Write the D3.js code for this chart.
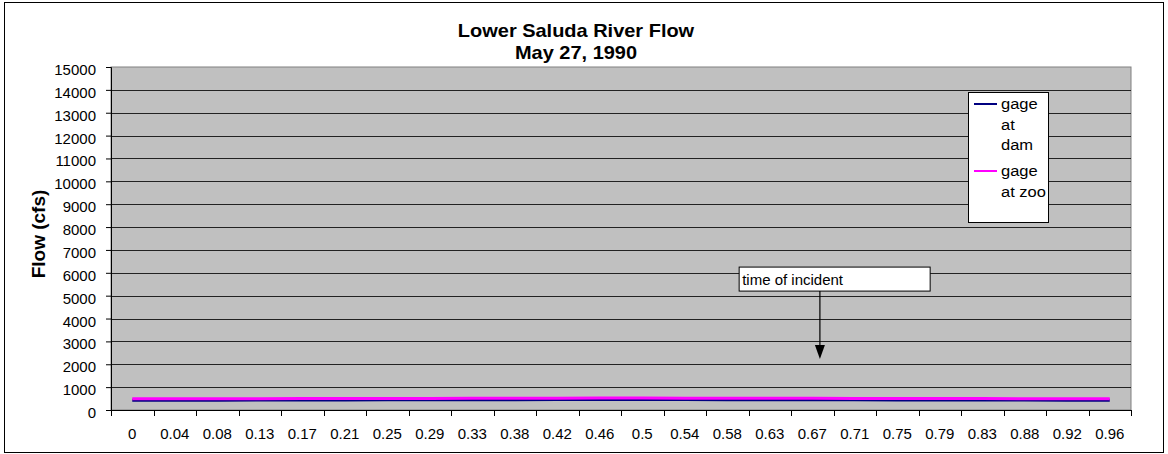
<!DOCTYPE html>
<html>
<head>
<meta charset="utf-8">
<script src="https://cdn.jsdelivr.net/npm/d3@7"></script>
<style>
  body { margin: 0; background: #fff; }
  text { font-family: Arial, "Liberation Sans", sans-serif; }
</style>
</head>
<body>
<div id="grafico"></div>
<script>
// datos
var horas = ["0","0.04","0.08","0.13","0.17","0.21","0.25","0.29","0.33","0.38","0.42","0.46",
             "0.5","0.54","0.58","0.63","0.67","0.71","0.75","0.79","0.83","0.88","0.92","0.96"];
var gageDam = [430,430,430,435,440,440,445,445,450,450,455,455,455,455,450,450,445,445,440,440,435,435,430,430];
var gageZoo = [490,490,495,495,500,500,505,505,510,515,515,520,520,515,515,510,510,505,505,500,500,495,495,495];
var series = ["gage at dam", "gage at zoo"];
var colores = ["#000080", "#ff00ff"];
var ticksY = d3.range(0, 15001, 1000);
var nota = "time of incident";

var width = 1168, height = 454;
var m = {top: 67, right: 37, bottom: 44, left: 111};
var w = width - m.left - m.right;
var h = height - m.top - m.bottom;
var estirar = 1.1; // el original esta algo estirado a lo ancho

var svg = d3.select("#grafico").append("svg")
  .attr("width", width).attr("height", height);

// marco exterior
svg.append("rect")
  .attr("x", 4.5).attr("y", 2.5).attr("width", 1159).attr("height", 450)
  .attr("fill", "#fff").attr("stroke", "#000").attr("stroke-width", 1);

var x = d3.scaleBand().domain(horas).range([0, w]);
var y = d3.scaleLinear().domain([0, 15000]).range([h, 0]);

var g = svg.append("g").attr("transform", "translate(" + m.left + "," + m.top + ")");

g.append("rect").attr("width", w).attr("height", h)
  .attr("fill", "#c0c0c0").attr("stroke", "#808080");

// lineas de grilla
g.selectAll(".grid").data(ticksY.slice(1, -1)).enter().append("line")
  .attr("x1", 0).attr("x2", w)
  .attr("y1", function(d){ return Math.round(y(d)) + 0.5; })
  .attr("y2", function(d){ return Math.round(y(d)) + 0.5; })
  .attr("stroke", "#222");

// eje y
var ejeY = g.append("g")
  .call(d3.axisLeft(y).tickValues(ticksY).tickSize(5).tickPadding(10).tickFormat(d3.format("d")));
ejeY.selectAll("text").attr("font-size", 15).attr("fill", "#000").attr("dy", "0.5em");
ejeY.select(".domain").attr("stroke", "#000");
ejeY.selectAll(".tick line").attr("stroke", "#000");

// eje x: marcas entre categorias
var ejeX = g.append("g").attr("transform", "translate(0," + h + ")")
  .call(d3.axisBottom(x).tickSize(0).tickPadding(18).tickSizeOuter(0));
ejeX.selectAll("text").attr("font-size", 15).attr("fill", "#000");
ejeX.select(".domain").attr("stroke", "#000");
g.append("g").attr("transform", "translate(0," + h + ")")
  .selectAll("line").data(horas.concat([null])).enter().append("line")
  .attr("x1", function(d, i){ return Math.round(i * x.step()) + 0.5; })
  .attr("x2", function(d, i){ return Math.round(i * x.step()) + 0.5; })
  .attr("y1", 0).attr("y2", 6).attr("stroke", "#000");

// series
var linea = d3.line()
  .x(function(d, i){ return x(horas[i]) + x.bandwidth() / 2; })
  .y(function(d){ return y(d); });

[gageDam, gageZoo].forEach(function(s, k){
  g.append("path").datum(s)
    .attr("d", linea)
    .attr("fill", "none")
    .attr("stroke", colores[k])
    .attr("stroke-width", 3);
});

// anotacion "time of incident"
var xNota = x("0.67") + x.step() * 0.68;
var punta = y(2230);
var caja = {x: x("0.67") - x.step() * 1.22, y: y(6250), w: 191, h: 24};
g.append("rect").attr("x", caja.x).attr("y", caja.y).attr("width", caja.w).attr("height", caja.h)
  .attr("fill", "#fff").attr("stroke", "#000");
g.append("text").attr("x", caja.x + 3).attr("y", caja.y + 18)
  .attr("font-size", 15).text(nota);
g.append("line").attr("x1", xNota).attr("x2", xNota)
  .attr("y1", caja.y + caja.h).attr("y2", punta - 12)
  .attr("stroke", "#000").attr("stroke-width", 1.2);
g.append("path")
  .attr("d", "M" + (xNota - 5) + "," + (punta - 14) + "L" + (xNota + 5) + "," + (punta - 14) + "L" + xNota + "," + punta + "Z")
  .attr("fill", "#000");

// leyenda
var ley = svg.append("g").attr("transform", "translate(968,92)");
ley.append("rect").attr("x", 0.5).attr("y", 0.5).attr("width", 80).attr("height", 130)
  .attr("fill", "#fff").attr("stroke", "#000");
var renglones = [["gage", "at", "dam"], ["gage", "at zoo"]];
var posY = [12, 79];
renglones.forEach(function(r, k){
  ley.append("line").attr("x1", 6).attr("x2", 29)
    .attr("y1", posY[k]).attr("y2", posY[k])
    .attr("stroke", colores[k]).attr("stroke-width", 2);
  r.forEach(function(t, j){
    ley.append("text")
      .attr("transform", "translate(33," + (posY[k] + 5 + j * 20.5) + ") scale(" + estirar + ",1)")
      .attr("font-size", 15).text(t);
  });
});

// titulos
svg.append("text").attr("transform", "translate(576,37) scale(1.11,1)").attr("text-anchor", "middle")
  .attr("font-size", 18).attr("font-weight", "bold").text("Lower Saluda River Flow");
svg.append("text").attr("transform", "translate(576,59) scale(1.11,1)").attr("text-anchor", "middle")
  .attr("font-size", 18).attr("font-weight", "bold").text("May 27, 1990");
svg.append("text")
  .attr("transform", "translate(45,234) rotate(-90)")
  .attr("text-anchor", "middle")
  .attr("font-size", 19).attr("font-weight", "bold").text("Flow (cfs)");
</script>
</body>
</html>
